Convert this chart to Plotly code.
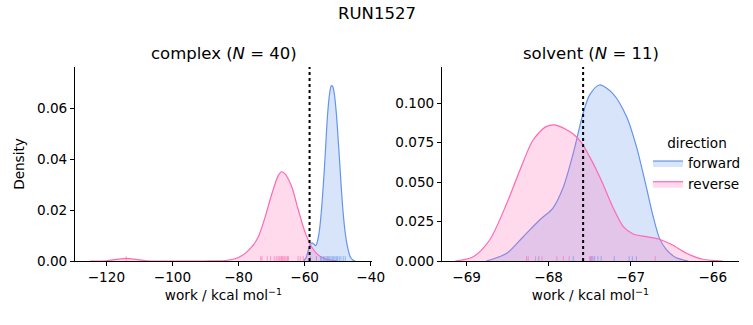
import plotly.graph_objects as go

# ---------------- data ----------------
# complex leg: KDE curves
cx_rev_x = [-125, -120, -117, -114, -111, -108, -100, -90, -84, -82, -80, -78, -76, -74, -72,
            -70, -68, -67, -66, -64, -62, -60, -58, -56, -54, -52, -50]
cx_rev_y = [0, 0.0001, 0.0006, 0.0010, 0.0006, 0.0001, 0, 0, 0.0002, 0.0006, 0.0014, 0.003,
            0.0055, 0.0095, 0.017, 0.026, 0.0335, 0.035, 0.0343, 0.0295, 0.0205, 0.0118,
            0.0058, 0.0025, 0.001, 0.0003, 0]
cx_fwd_x = [-60.3, -59.5, -58.8, -58.2, -57.8, -57.2, -56.6, -56.1, -55.6, -55.1, -54.6, -54.1,
            -53.6, -53.1, -52.5, -51.9, -51.5, -51.0, -50.4, -49.8, -49.2, -48.7, -48.2, -47.7,
            -47.2, -46.7, -46.2, -45.5, -44.7]
cx_fwd_y = [0, 0.0015, 0.0045, 0.0065, 0.0071, 0.0066, 0.006, 0.0078, 0.0112, 0.017, 0.025,
            0.0345, 0.0455, 0.0565, 0.065, 0.0688, 0.0685, 0.0655, 0.058, 0.047, 0.035, 0.025,
            0.017, 0.011, 0.0068, 0.0038, 0.0017, 0.0005, 0]
# complex leg: individual work values (rug)
cx_rev_work = [-114.0, -73.3, -72.9, -71.3, -70.3, -69.2, -68.6, -68.1, -67.7, -67.4, -67.0,
               -66.7, -66.3, -66.0, -65.6, -65.2, -64.9, -62.0, -61.3, -60.4]
cx_fwd_work = [-58.2, -56.4, -55.2, -54.8, -54.3, -53.9, -53.5, -53.1, -52.8, -52.4, -52.0,
               -51.6, -51.2, -50.8, -50.4, -50.0, -49.5, -49.0, -48.3, -47.7]
cx_marker = -58.5

# solvent leg
sv_rev_x = [-69.14, -68.92, -68.72, -68.51, -68.35, -68.19, -68.03, -67.91, -67.70, -67.60,
            -67.50, -67.42, -67.34, -67.22, -67.09, -66.97, -66.81, -66.65, -66.49, -66.32,
            -66.12, -65.88]
sv_rev_y = [0, 0.0027, 0.0133, 0.0366, 0.0577, 0.0767, 0.0852, 0.0862, 0.0805, 0.075, 0.066,
            0.058, 0.049, 0.0344, 0.0218, 0.0171, 0.0154, 0.0138, 0.0101, 0.0049, 0.0011, 0]
sv_fwd_x = [-68.76, -68.51, -68.31, -68.11, -67.95, -67.82, -67.70, -67.58, -67.50, -67.38,
            -67.22, -67.05, -66.93, -66.81, -66.73, -66.65, -66.57, -66.45, -66.30]
sv_fwd_y = [0, 0.0049, 0.0154, 0.026, 0.0334, 0.0471, 0.0683, 0.0937, 0.1053, 0.1116, 0.1063,
            0.0915, 0.0725, 0.047, 0.029, 0.0145, 0.0075, 0.0022, 0]
sv_rev_work = [-68.27, -68.25, -68.16, -68.08, -67.90, -67.82, -67.75, -67.50, -67.49, -67.47,
               -66.70]
sv_fwd_work = [-68.12, -67.70, -67.48, -67.46, -67.44, -67.40, -67.36, -67.20, -67.02, -66.98,
               -66.93]
sv_marker = -67.58

panel_titles = ["complex (<i>N</i> = 40)", "solvent (<i>N</i> = 11)"]

# ---------------- styling ----------------
FONT = "DejaVu Sans"
BLUE = "#6495ED"
PINK = "#FF69B4"
BLUE_FILL = "rgba(100,149,237,0.25)"
PINK_FILL = "rgba(255,105,180,0.25)"
FS = 13.6
FT = 16.5

fig = go.Figure()

panels = [
    dict(xa="x", ya="y", fwd=(cx_fwd_x, cx_fwd_y), rev=(cx_rev_x, cx_rev_y),
         fwd_w=cx_fwd_work, rev_w=cx_rev_work, mark=cx_marker, legend=False),
    dict(xa="x2", ya="y2", fwd=(sv_fwd_x, sv_fwd_y), rev=(sv_rev_x, sv_rev_y),
         fwd_w=sv_fwd_work, rev_w=sv_rev_work, mark=sv_marker, legend=True),
]

shapes = []
for p in panels:
    for name, (xs, ys), col, fill in [("forward", p["fwd"], BLUE, BLUE_FILL),
                                      ("reverse", p["rev"], PINK, PINK_FILL)]:
        fig.add_trace(go.Scatter(
            x=xs, y=ys, mode="lines", name=name, legendgroup=name,
            showlegend=p["legend"], fill="tozeroy", fillcolor=fill,
            line=dict(color=col, width=1.2, shape="spline", smoothing=0.8),
            xaxis=p["xa"], yaxis=p["ya"], hoverinfo="skip"))
    for w_list, col in [(p["fwd_w"], BLUE), (p["rev_w"], PINK)]:
        for w in w_list:
            shapes.append(dict(type="line", xref=p["xa"], yref=p["ya"] + " domain",
                               x0=w, x1=w, y0=0, y1=0.025,
                               line=dict(color=col, width=1), opacity=0.6, layer="above"))
    shapes.append(dict(type="line", xref=p["xa"], yref=p["ya"] + " domain",
                       x0=p["mark"], x1=p["mark"], y0=0, y1=1,
                       line=dict(color="black", width=2, dash="dot"), layer="above"))

axis_common = dict(showline=True, linecolor="black", linewidth=1, mirror=False,
                   ticks="outside", ticklen=4, tickwidth=1, tickcolor="black",
                   showgrid=False, zeroline=False, automargin=False,
                   tickfont=dict(family=FONT, size=FS, color="black"))

xlab = "work / kcal mol<sup>−1</sup>"
fig.update_layout(
    width=753, height=325,
    margin=dict(l=0, r=0, t=0, b=0),
    paper_bgcolor="white", plot_bgcolor="white",
    font=dict(family=FONT, size=FS, color="black"),
    shapes=shapes,
    xaxis=dict(domain=[75/753, 372/753], range=[-129.5, -39.6], tick0=-120, dtick=20,
               title=dict(text=xlab, font=dict(size=FS), standoff=6), anchor="y",
               **axis_common),
    yaxis=dict(domain=[1-261/325, 1-67/325], range=[0, 0.0761], dtick=0.02, tickformat=".2f",
               title=dict(text="Density", font=dict(size=FS), standoff=9), anchor="x",
               **axis_common),
    xaxis2=dict(domain=[442/753, 739/753], range=[-69.30, -65.68], dtick=1,
                title=dict(text=xlab, font=dict(size=FS), standoff=6), anchor="y2",
                **axis_common),
    yaxis2=dict(domain=[1-261/325, 1-67/325], range=[0, 0.123], dtick=0.025, tickformat=".3f",
                anchor="x2", **axis_common),
    legend=dict(x=648/753, y=1-130/325, xanchor="left", yanchor="top",
                bgcolor="rgba(0,0,0,0)",
                title=dict(text="direction", side="top center", font=dict(size=FS)),
                font=dict(size=FS), tracegroupgap=0, itemwidth=30),
    showlegend=True,
    annotations=[
        dict(text="RUN1527", x=0.5, y=1-13/325, xref="paper", yref="paper",
             showarrow=False, font=dict(size=FT), xanchor="center", yanchor="middle"),
        dict(text=panel_titles[0], x=223.5/753, y=1-54/325, xref="paper", yref="paper",
             showarrow=False, font=dict(size=FT), xanchor="center", yanchor="middle"),
        dict(text=panel_titles[1], x=590.5/753, y=1-54/325, xref="paper", yref="paper",
             showarrow=False, font=dict(size=FT), xanchor="center", yanchor="middle"),
    ],
)

fig.write_html("out.html")
